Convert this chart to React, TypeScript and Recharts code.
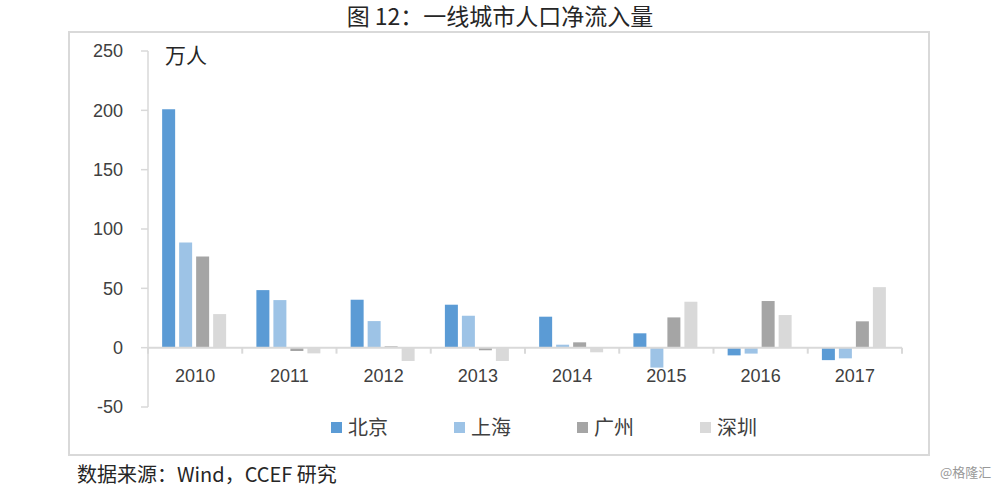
import React from "react";
import { BarChart, Bar, XAxis, YAxis, ReferenceLine } from "recharts";

const years = ["2010", "2011", "2012", "2013", "2014", "2015", "2016", "2017"];
const beijing = [201, 48.5, 40.4, 36.2, 26.1, 12.1, -6.5, -10.5];
const shanghai = [88.6, 40.1, 22.4, 26.9, 2.5, -16.8, -5.0, -9.0];
const guangzhou = [76.8, -2.8, 1.1, -2.2, 4.5, 25.5, 39.3, 22.2];
const shenzhen = [28.3, -4.8, -11.2, -11.2, -3.9, 38.7, 27.5, 51.0];
const yTicks = [-50, 0, 50, 100, 150, 200, 250];

const seriesNames = ["北京", "上海", "广州", "深圳"];
const seriesKeys = ["bj", "sh", "gz", "sz"];
const seriesColors = ["#5B9BD5", "#9DC3E6", "#A5A5A5", "#D9D9D9"];

const data = years.map((y, i) => ({
  year: y,
  bj: beijing[i],
  sh: shanghai[i],
  gz: guangzhou[i],
  sz: shenzhen[i],
}));

const Y_MIN = -50;
const Y_MAX = 250;
const W = 1000;
const H = 487;
const XAXIS_H = 30;
const M = { top: 51, right: 98, bottom: 80 - XAXIS_H, left: 88 };
const YAXIS_W = 60;
const PLOT_W = W - M.left - M.right - YAXIS_W;
const PLOT_H = H - M.top - M.bottom - XAXIS_H;
const BAND = PLOT_W / years.length;
const ZERO_OFFSET = (PLOT_H * (0 - Y_MIN)) / (Y_MAX - Y_MIN);

const CJK = '"Noto Sans CJK SC", "Noto Sans", sans-serif';
const NUM = '"Liberation Sans", Arial, sans-serif';

const XTick = (props: any) => {
  const { x, y, payload, index } = props;
  const zy = y - ZERO_OFFSET;
  return (
    <g>
      <line x1={x - BAND / 2} x2={x - BAND / 2} y1={zy} y2={zy + 6} stroke="#d9d9d9" strokeWidth={2} />
      {index === years.length - 1 && (
        <line x1={x + BAND / 2} x2={x + BAND / 2} y1={zy} y2={zy + 6} stroke="#d9d9d9" strokeWidth={2} />
      )}
      <text x={x} y={zy + 30} textAnchor="middle" dominantBaseline="middle" fontSize={18} fill="#404040" fontFamily={NUM}>
        {payload.value}
      </text>
    </g>
  );
};

export default function App() {
  return (
    <div style={{ position: "absolute", left: 0, top: 0, width: W, height: H, background: "#fff" }}>
      <div
        style={{
          position: "absolute",
          left: 0,
          top: 0,
          width: W,
          textAlign: "center",
          fontFamily: CJK,
          fontSize: 23,
          lineHeight: "31px",
          color: "#262626",
        }}
      >
        图 12：一线城市人口净流入量
      </div>
      <div
        style={{
          position: "absolute",
          left: 68,
          top: 31,
          width: 862,
          height: 425,
          border: "2px solid #d9d9d9",
          boxSizing: "border-box",
        }}
      />
      <div style={{ position: "absolute", left: 0, top: 0 }}>
        <BarChart width={W} height={H} data={data} margin={M} barCategoryGap="15%" barGap={4}>
          <XAxis
            dataKey="year"
            height={XAXIS_H}
            axisLine={false}
            tickLine={false}
            tickSize={0}
            tickMargin={0}
            interval={0}
            tick={<XTick />}
          />
          <YAxis
            width={YAXIS_W}
            domain={[Y_MIN, Y_MAX]}
            ticks={yTicks}
            interval={0}
            allowDataOverflow
            axisLine={{ stroke: "#d9d9d9", strokeWidth: 1.5 }}
            tickLine={{ stroke: "#d9d9d9", strokeWidth: 1.5 }}
            tickSize={7}
            tickMargin={18}
            tick={{ fontSize: 18, fill: "#404040", fontFamily: NUM }}
          />
          {seriesKeys.map((k, i) => (
            <Bar key={k} dataKey={k} name={seriesNames[i]} fill={seriesColors[i]} isAnimationActive={false} />
          ))}
          <ReferenceLine y={0} stroke="#d9d9d9" strokeWidth={2} />
        </BarChart>
      </div>
      <div
        style={{
          position: "absolute",
          left: 331,
          top: 414,
          display: "flex",
          fontFamily: CJK,
          fontSize: 20,
          color: "#404040",
        }}
      >
        {seriesNames.map((n, i) => (
          <div key={n} style={{ width: 123, display: "flex", alignItems: "center" }}>
            <span style={{ display: "inline-block", width: 11, height: 11, background: seriesColors[i], marginRight: 6 }} />
            <span style={{ lineHeight: "26px" }}>{n}</span>
          </div>
        ))}
      </div>
      <div
        style={{
          position: "absolute",
          left: 165,
          top: 40,
          fontFamily: CJK,
          fontSize: 21,
          lineHeight: "28px",
          color: "#262626",
        }}
      >
        万人
      </div>
      <div
        style={{
          position: "absolute",
          left: 77,
          top: 460,
          fontFamily: CJK,
          fontSize: 20,
          lineHeight: "28px",
          color: "#262626",
        }}
      >
        数据来源：Wind，CCEF 研究
      </div>
      <div
        style={{
          position: "absolute",
          left: 940,
          top: 462,
          fontFamily: CJK,
          fontSize: 13,
          lineHeight: "20px",
          color: "#999",
        }}
      >
        @格隆汇
      </div>
    </div>
  );
}
